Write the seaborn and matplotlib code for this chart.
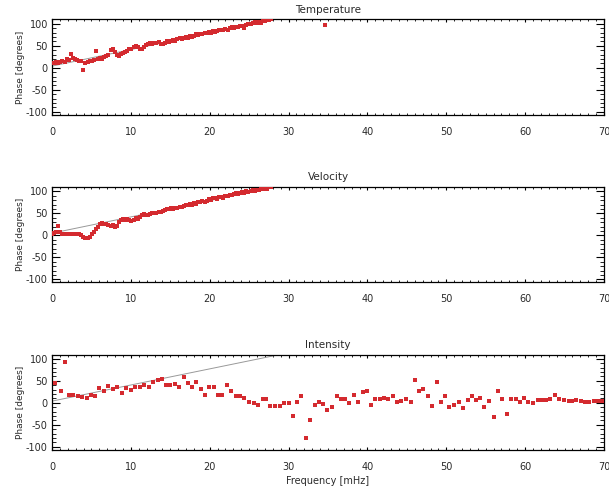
import numpy as np
import pandas as pd
import matplotlib
matplotlib.use("Agg")
import matplotlib.pyplot as plt
import seaborn as sns
from matplotlib.ticker import MultipleLocator

# ---------------- data ----------------
freq_tv = [0.00, 0.27, 0.53, 0.80, 1.06, 1.33, 1.59, 1.86, 2.12, 2.39,
           2.65, 2.92, 3.18, 3.45, 3.71, 3.98, 4.24, 4.51, 4.77, 5.04,
           5.30, 5.57, 5.83, 6.10, 6.36, 6.63, 6.89, 7.16, 7.42, 7.69,
           7.95, 8.22, 8.48, 8.75, 9.01, 9.28, 9.54, 9.81, 10.07, 10.34,
           10.60, 10.87, 11.13, 11.40, 11.66, 11.93, 12.19, 12.46, 12.72, 12.99,
           13.25, 13.52, 13.78, 14.05, 14.31, 14.58, 14.84, 15.11, 15.37, 15.64,
           15.90, 16.17, 16.43, 16.70, 16.96, 17.23, 17.49, 17.76, 18.02, 18.29,
           18.55, 18.82, 19.08, 19.35, 19.61, 19.88, 20.14, 20.41, 20.67, 20.94,
           21.20, 21.47, 21.73, 22.00, 22.26, 22.53, 22.79, 23.06, 23.32, 23.59,
           23.85, 24.12, 24.38, 24.65, 24.91, 25.18, 25.44, 25.71, 25.97, 26.24,
           26.50, 26.77, 27.03, 27.30, 27.56, 27.83]

temp_phase = [12, 10, 13, 11, 14, 16, 13, 20, 18, 32,
              22, 20, 17, 15, 16, -5, 12, 14, 15, 16,
              18, 38, 20, 22, 21, 24, 27, 30, 40, 42,
              36, 30, 28, 31, 34, 35, 38, 42, 44, 47,
              50, 48, 44, 42, 47, 52, 55, 56, 55, 57,
              56, 58, 54, 55, 57, 60, 58, 60, 63, 62,
              65, 67, 66, 68, 70, 69, 72, 71, 73, 76,
              74, 78, 77, 80, 79, 81, 80, 83, 82, 84,
              86, 85, 87, 89, 86, 90, 92, 91, 94, 93,
              96, 95, 91, 98, 100, 99, 102, 104, 102, 105,
              103, 107, 106, 108, 109, 110]
temp_extra_freq = [34.6]
temp_extra_phase = [98]

vel_phase = [3, 5, 8, 22, 8, 4, 3, 4, 3, 4,
             3, 4, 3, 4, 1, -3, -5, -6, -3, 3,
             8, 14, 20, 26, 28, 25, 27, 24, 22, 24,
             19, 22, 30, 34, 38, 35, 37, 35, 33, 36,
             40, 38, 42, 46, 49, 47, 46, 48, 50, 52,
             51, 54, 53, 56, 58, 61, 59, 62, 60, 63,
             62, 64, 65, 67, 70, 69, 72, 70, 73, 72,
             76, 75, 78, 76, 79, 82, 80, 84, 86, 83,
             87, 88, 86, 90, 89, 92, 91, 94, 96, 93,
             96, 98, 97, 100, 99, 102, 104, 101, 104, 103,
             106, 105, 107, 106, 109, 110]

int_freq = [0.4, 1.1, 1.6, 2.1, 2.6, 3.3, 3.85, 4.4, 5.0, 5.5,
            6.0, 6.6, 7.1, 7.7, 8.3, 8.9, 9.4, 10.0, 10.5, 11.1,
            11.7, 12.3, 12.8, 13.4, 13.9, 14.5, 15.0, 15.6, 16.1, 16.7,
            17.2, 17.8, 18.3, 18.9, 19.4, 19.9, 20.5, 21.0, 21.6, 22.2,
            22.7, 23.3, 23.9, 24.4, 25.0, 25.6, 26.1, 26.7, 27.2, 27.7,
            28.3, 28.9, 29.4, 30.0, 30.5, 31.1, 31.6, 32.2, 32.7, 33.3,
            33.8, 34.4, 34.9,
            35.5, 36.1, 36.6, 37.2, 37.7, 38.3, 38.8, 39.4, 39.9, 40.4,
            41.0, 41.6, 42.1, 42.6, 43.3, 43.8, 44.3, 44.9, 45.5, 46.0,
            46.6, 47.1, 47.7, 48.2, 48.8, 49.3, 49.9, 50.4, 51.0, 51.6,
            52.1, 52.7, 53.2, 53.8, 54.3, 54.8, 55.4, 56.0, 56.5, 57.1,
            57.7, 58.2, 58.8, 59.3, 59.9, 60.4, 61.0, 61.6, 62.1, 62.6,
            63.2, 63.8, 64.3, 64.9, 65.5, 66.0, 66.5, 67.1, 67.6, 68.1,
            68.7, 69.3, 69.8]
int_phase = [46, 27, 93, 17, 17, 15, 14, 11, 18, 16,
             34, 28, 38, 32, 37, 22, 34, 30, 35, 37,
             40, 35, 48, 52, 55, 40, 40, 42, 35, 58,
             45, 35, 47, 32, 19, 37, 35, 17, 19, 40,
             26, 15, 15, 10, 2, -1, -5, 9, 9, -8,
             -6, -6, 0, 0, -30, 2, 16, -80, -38, -5,
             2, -2, -17,
             -10, 15, 9, 9, 0, 17, 3, 24, 26, -5,
             9, 9, 10, 9, 15, 2, 4, 9, 2, 51,
             26, 31, 15, -8, 47, 2, 16, -10, -5, 2,
             -12, 7, 15, 7, 10, -10, 5, -33, 27, 9,
             -25, 9, 9, 3, 12, 3, 0, 7, 7, 7,
             9, 17, 9, 7, 4, 5, 7, 5, 1, 3,
             4, 4, 4]

fit_freq = [0, 30]
temp_fit = [4, 117]
vel_fit = [5, 116]
int_fit = [4, 114]

titles = ["Temperature", "Velocity", "Intensity"]
x_ticks = [0, 10, 20, 30, 40, 50, 60, 70]
y_ticks = [-100, -50, 0, 50, 100]

# ---------------- styling ----------------
sns.set_theme(style="white")
plt.rcParams['font.family'] = ['DejaVu Sans']
plt.rcParams['axes.unicode_minus'] = False

RED = '#d42a2f'
GREY = '#999999'
TXT = '#2a2a2a'

W, H = 609, 493
fig = plt.figure(figsize=(W / 100, H / 100), dpi=100)
fig.patch.set_facecolor('white')

left = 52 / W
width = 552 / W
ph = 95
tops = [19.5, 187.0, 354.5]

panels = [
    (pd.DataFrame({'f': freq_tv + temp_extra_freq, 'p': temp_phase + temp_extra_phase}), temp_fit, 7.5),
    (pd.DataFrame({'f': freq_tv, 'p': vel_phase}), vel_fit, 7.5),
    (pd.DataFrame({'f': int_freq, 'p': int_phase}), int_fit, 7.5),
]

for i, ((df, fit, msize), top) in enumerate(zip(panels, tops)):
    ax = fig.add_axes([left, 1 - (top + ph) / H, width, ph / H])
    ax.set_facecolor('white')
    sns.lineplot(x=fit_freq, y=fit, color=GREY, lw=0.7, ax=ax)
    sns.scatterplot(data=df, x='f', y='p', marker='s', s=msize, color=RED,
                    linewidth=0, ax=ax, zorder=3)
    ax.set_xlim(0, 70)
    ax.set_ylim(-106, 110)
    ax.set_xticks(x_ticks)
    ax.set_yticks(y_ticks)
    ax.xaxis.set_minor_locator(MultipleLocator(1))
    ax.yaxis.set_minor_locator(MultipleLocator(10))
    ax.tick_params(axis='x', which='major', direction='in', length=2.2, width=0.8,
                   top=True, bottom=True, labelsize=7, labelcolor=TXT, pad=9, color='black')
    ax.tick_params(axis='x', which='minor', direction='in', length=1.3, width=0.6,
                   top=True, bottom=True, color='black')
    ax.tick_params(axis='y', which='major', direction='in', length=5.5, width=0.8,
                   left=True, right=True, labelsize=7, labelcolor=TXT, pad=3, color='black')
    ax.tick_params(axis='y', which='minor', direction='in', length=2.8, width=0.6,
                   left=True, right=True, color='black')
    for sp in ax.spines.values():
        sp.set_visible(True)
        sp.set_color('black')
        sp.set_linewidth(0.9)
    ax.set_title(titles[i], fontsize=7.5, color=TXT, pad=5)
    ax.set_ylabel('Phase [degrees]', fontsize=6.5, color=TXT, labelpad=1)
    if i == 2:
        ax.set_xlabel('Frequency [mHz]', fontsize=7, color=TXT, labelpad=3)
    else:
        ax.set_xlabel('')

fig.savefig('out.png', dpi=100, facecolor='white')
